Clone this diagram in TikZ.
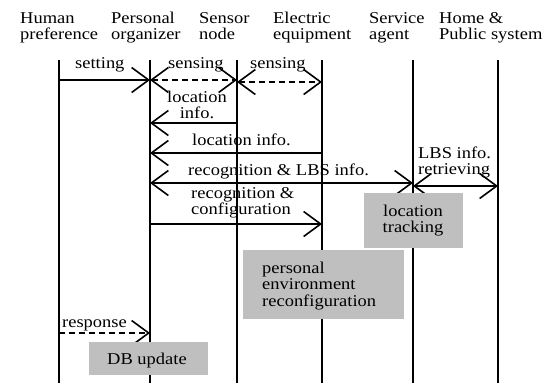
\documentclass[tikz,border=0pt]{standalone}
\usepackage{fontspec}
\setmainfont{Liberation Serif}[FakeStretch=1.12]
\usetikzlibrary{arrows.meta}
\newcommand{\mytabl}[1]{\begin{tabular}[t]{@{}l@{}}#1\end{tabular}}
\newcommand{\mytabc}[1]{\begin{tabular}[t]{@{}c@{}}#1\end{tabular}}
\tikzset{
  txt/.style={inner sep=0pt, anchor=base west, font=\fontsize{16.5}{16.8}\selectfont},
  txtc/.style={txt, anchor=base},
  life/.style={line width=1.7pt},
  msg/.style={line width=1.6pt, -{Straight Barb[length=17pt,width=25pt,line width=1.6pt]}},
  both/.style={line width=1.6pt, {Straight Barb[length=17pt,width=25pt,line width=1.6pt]}-{Straight Barb[length=17pt,width=25pt,line width=1.6pt]}},
  dsh/.style={dash pattern=on 6pt off 4pt},
  graybox/.style={fill=gray!50, draw=none, inner sep=0pt}
}
\begin{document}
\begin{tikzpicture}[x=1pt,y=-1pt]
\useasboundingbox (0,0) rectangle (555,383);
% headers
\node[txt] (hh) at (20,23) {\mytabl{Human\\preference}};
\node[txt] (hp) at (111,23) {\mytabl{Personal\\organizer}};
\node[txt] (hs) at (199,23) {\mytabl{Sensor\\node}};
\node[txt] (he) at (273,23) {\mytabl{Electric\\equipment}};
\node[txt] (ha) at (369,23) {\mytabl{Service\\agent}};
\node[txt] (hm) at (439,23) {\mytabl{Home \&\\Public system}};
% lifelines
\coordinate (hT) at (59,60);  \coordinate (hB) at (59,383);
\coordinate (pT) at (150,60); \coordinate (pB) at (150,383);
\coordinate (sT) at (237,60); \coordinate (sB) at (237,383);
\coordinate (eT) at (322,60); \coordinate (eB) at (322,383);
\coordinate (aT) at (413,60); \coordinate (aB) at (413,383);
\coordinate (mT) at (498,60); \coordinate (mB) at (498,383);
\foreach \l in {h,p,s,e,a,m} {\draw[life] (\l T) -- (\l B);}
% rows
\coordinate (y1) at (0,80);
\coordinate (y2) at (0,82);
\coordinate (y3) at (0,123);
\coordinate (y4) at (0,153);
\coordinate (y5) at (0,183);
\coordinate (y6) at (0,186);
\coordinate (y7) at (0,224);
\coordinate (y8) at (0,333);
% messages
\draw[msg] (hT |- y1) -- (pT |- y1);
\draw[both,dsh] (pT |- y1) -- (sT |- y1);
\draw[both,dsh] (sT |- y2) -- (eT |- y2);
\draw[msg] (sT |- y3) -- (pT |- y3);
\draw[msg] (eT |- y4) -- (pT |- y4);
\draw[both] (pT |- y5) -- (aT |- y5);
\draw[both] (aT |- y6) -- (mT |- y6);
\draw[msg] (pT |- y7) -- (eT |- y7);
\draw[msg,dsh] (hT |- y8) -- (pT |- y8);
% labels
\node[txt] (lset) at (75,68) {setting};
\node[txt] (lsen1) at (168,68) {sensing};
\node[txt] (lsen2) at (250,68) {sensing};
\node[txtc] (lloc1) at (197,102) {\mytabc{location\\info.}};
\node[txt] (lloc2) at (192,145) {location info.};
\node[txt] (lrec) at (188,175) {recognition \& LBS info.};
\node[txt] (lconf) at (191,198) {\mytabl{recognition \&\\configuration}};
\node[txt] (llbs) at (418,158) {\mytabl{LBS info.\\retrieving}};
\node[txt] (lresp) at (62,327) {response};
% boxes
\node[graybox, minimum width=99pt, minimum height=55pt] (btrack) at (413.5,220.5) {};
\node[txtc] (ttrack) at (413,216) {\mytabc{location\\tracking}};
\node[graybox, minimum width=161pt, minimum height=69pt] (benv) at (323.5,284.5) {};
\node[txt] (tenv) at (262,273) {\mytabl{personal\\environment\\reconfiguration}};
\node[graybox, minimum width=119pt, minimum height=33pt] (bdb) at (148.5,358.5) {};
\node[txt] (tdb) at (107,364) {DB update};
\end{tikzpicture}
\end{document}
